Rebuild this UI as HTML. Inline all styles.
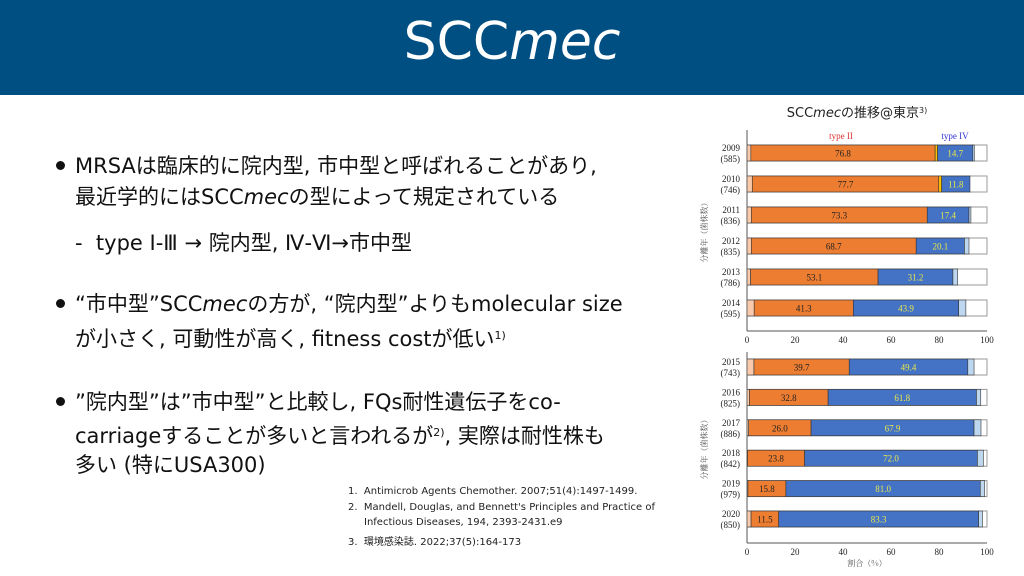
<!DOCTYPE html>
<html><head><meta charset="utf-8"><style>
body{margin:0;width:1024px;height:576px;overflow:hidden;background:#fff;font-family:"DejaVu Sans","Noto Sans CJK JP",sans-serif;position:relative}
.hdr{position:absolute;left:0;top:0;width:1024px;height:95px;background:#004f83}
.ttl{position:absolute;left:0;width:1024px;top:12px;text-align:center;color:#fff;font-size:52px;font-family:"DejaVu Sans",sans-serif}
.t{position:absolute;font-size:21px;color:#111;white-space:nowrap;line-height:24px}
.b{position:absolute;width:9px;height:9px;border-radius:50%;background:#111}
sup{font-size:11px;vertical-align:7px}
.ref{position:absolute;left:348px;font-size:10px;color:#222;white-space:nowrap}
</style></head><body>
<div class="hdr"></div>
<div class="ttl">SCC<i>mec</i></div>

<div class="b" style="left:56px;top:161px"></div>
<div class="t" style="left:75px;top:154px">MRSAは臨床的に院内型, 市中型と呼ばれることがあり,</div>
<div class="t" style="left:75px;top:185px">最近学的にはSCC<i>mec</i>の型によって規定されている</div>
<div class="t" style="left:75px;top:231px">-&nbsp; type Ⅰ-Ⅲ → 院内型, Ⅳ-Ⅵ→市中型</div>

<div class="b" style="left:56px;top:299px"></div>
<div class="t" style="left:75px;top:292px">“市中型”SCC<i>mec</i>の方が, “院内型”よりもmolecular size</div>
<div class="t" style="left:75px;top:324px">が小さく, 可動性が高く, fitness costが低い<sup>1)</sup></div>

<div class="b" style="left:56px;top:397px"></div>
<div class="t" style="left:75px;top:390px">”院内型”は”市中型”と比較し, FQs耐性遺伝子をco-</div>
<div class="t" style="left:75px;top:421px">carriageすることが多いと言われるが<sup>2)</sup>, 実際は耐性株も</div>
<div class="t" style="left:75px;top:453px">多い (特にUSA300)</div>

<div class="ref" style="top:486px">1.&nbsp; Antimicrob Agents Chemother. 2007;51(4):1497-1499.</div>
<div class="ref" style="top:502px">2.&nbsp; Mandell, Douglas, and Bennett's Principles and Practice of</div>
<div class="ref" style="top:517px;left:364px">Infectious Diseases, 194, 2393-2431.e9</div>
<div class="ref" style="top:533px">3.&nbsp; 環境感染誌. 2022;37(5):164-173</div>

<svg id="chart" width="1024" height="576" style="position:absolute;left:0;top:0"></svg>
<script>
const years=["2009","2010","2011","2012","2013","2014","2015","2016","2017","2018","2019","2020"];
const counts=["585","746","836","835","786","595","743","825","886","842","979","850"];
const peach=[1.6,2.2,1.8,1.8,1.5,3.0,2.9,1.0,0.7,0.2,0.4,1.7];
const typeII=[76.8,77.7,73.3,68.7,53.1,41.3,39.7,32.8,26.0,23.8,15.8,11.5];
const yellow=[1.0,1.2,0,0,0,0,0,0,0,0,0,0];
const typeIV=[14.7,11.8,17.4,20.1,31.2,43.9,49.4,61.8,67.9,72.0,81.0,83.3];
const lightBlue=[0.6,0,0.8,1.9,2.0,3.0,2.6,1.8,2.9,2.5,1.8,1.6];
const xTicks=[0,20,40,60,80,100];
const svg=document.getElementById('chart');
const NS='http://www.w3.org/2000/svg';
const X0=747,X1=987;
const xs=v=>X0+(X1-X0)*v/100;
function el(t,a,txt){const e=document.createElementNS(NS,t);for(const k in a)e.setAttribute(k,a[k]);if(txt!=null)e.textContent=txt;svg.appendChild(e);return e;}
const serif='"Liberation Serif","Noto Serif CJK SC",serif';
const panels=[{start:0,y0:153,step:31,axisY:331,top:130},{start:6,y0:367,step:30.4,axisY:543,top:352}];
let t=el('text',{x:857,y:117,'font-size':13,'text-anchor':'middle','font-family':'"DejaVu Sans","Noto Sans CJK JP",sans-serif',fill:'#222'});

t.innerHTML='SCC<tspan font-style="italic">mec</tspan>の推移@東京<tspan font-size="8" dy="-4">3)</tspan>';
t=el('text',{x:841,y:139,'font-size':9,fill:'#e03030','font-family':serif,'text-anchor':'middle'},'type II');

t=el('text',{x:955,y:139,'font-size':9,fill:'#3030d0','font-family':serif,'text-anchor':'middle'},'type IV');

panels.forEach((p,pi)=>{
  let ax=el('line',{x1:X0,y1:p.top,x2:X0,y2:p.axisY,stroke:'#555','stroke-width':1});
  
  ax=el('line',{x1:X0,y1:p.axisY,x2:X1,y2:p.axisY,stroke:'#555','stroke-width':1});
  
  xTicks.forEach(v=>{
    const l=el('text',{x:xs(v),y:p.axisY+12,'font-size':9,'text-anchor':'middle','font-family':serif,fill:'#222'},String(v));
    
  });
  for(let k=0;k<6;k++){
    const i=p.start+k,cy=p.y0+p.step*k,h=16,y=cy-h/2;
    const segs=[[peach[i],'#f8c9aa'],[typeII[i],'#ed7d31'],[yellow[i],'#ffc000'],[typeIV[i],'#4472c4'],[lightBlue[i],'#bdd7ee']];
    const bg=el('rect',{x:X0,y:y,width:X1-X0,height:h,fill:'#fff',stroke:'#999','stroke-width':1});
    
    let acc=0;
    segs.forEach((s,si)=>{
      if(s[0]<=0)return;
      const r=el('rect',{x:xs(acc),y:y,width:xs(acc+s[0])-xs(acc),height:h,fill:s[1],stroke:'#333','stroke-width':0.6});
      
      acc+=s[0];
    });
    let lx=xs(peach[i]+typeII[i]/2);
    let tl=el('text',{x:lx,y:cy+3.5,'font-size':9,'text-anchor':'middle','font-family':serif,fill:'#222'},typeII[i].toFixed(1));
    
    lx=xs(peach[i]+typeII[i]+yellow[i]+typeIV[i]/2);
    tl=el('text',{x:lx,y:cy+3.5,'font-size':9,'text-anchor':'middle','font-family':serif,fill:'#e8e84a'},typeIV[i].toFixed(1));
    
    tl=el('text',{x:740,y:cy-2,'font-size':9,'text-anchor':'end','font-family':serif,fill:'#222'},years[i]);
    
    tl=el('text',{x:740,y:cy+9,'font-size':9,'text-anchor':'end','font-family':serif,fill:'#222'},'('+counts[i]+')');
    
  }
  const yt=el('text',{x:0,y:0,'font-size':8,'text-anchor':'middle','font-family':'"Noto Serif CJK SC",serif',fill:'#555',transform:'translate(707,'+((p.top+p.axisY)/2)+') rotate(-90)'},'分離年（菌株数）');
  
});
const xt=el('text',{x:867,y:566,'font-size':8,'text-anchor':'middle','font-family':'"Noto Serif CJK SC",serif',fill:'#555'},'割合（%）');

</script>
</body></html>
